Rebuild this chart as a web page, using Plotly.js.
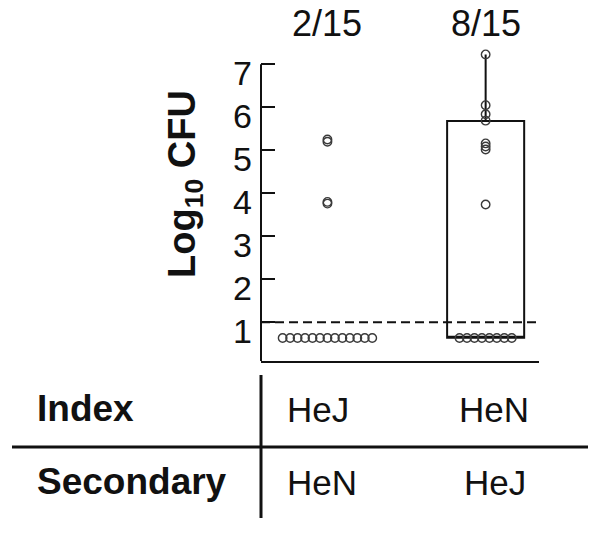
<!DOCTYPE html>
<html>
<head>
<meta charset="utf-8">
<script src="https://cdn.plot.ly/plotly-3.0.1.min.js"></script>
<style>html,body{margin:0;padding:0;background:#fff;}#chart{width:602px;height:533px;}</style>
</head>
<body>
<div id="chart"></div>
<script>
// ---- data ----
var groups = ['HeJ', 'HeN'];
var ratioLabels = ['2/15', '8/15'];
var indexRow = ['HeJ', 'HeN'];
var secondaryRow = ['HeN', 'HeJ'];
var rowTitles = ['Index', 'Secondary'];
var lodValue = 0.635;          // values plotted below the detection limit
var detectionLimit = 1;        // dashed line
var valuesHeJ = [0.635,0.635,0.635,0.635,0.635,0.635,0.635,0.635,0.635,0.635,0.635,0.635,0.635, 5.25, 5.20, 3.80, 3.76];
var valuesHeN = [0.635,0.635,0.635,0.635,0.635,0.635,0.635,0.635, 7.23, 6.05, 5.84, 5.69, 5.16, 5.09, 5.02, 3.74];
var boxHeN = {q1: 0.64, median: 0.64, q3: 5.68, lowerfence: 0.64, upperfence: 7.23};
var yTicks = [1, 2, 3, 4, 5, 6, 7];

// ---- layout geometry ----
var W = 602, H = 533;
var mL = 261, mR = 63, mT = 49, mB = 172;
var plotW = W - mL - mR, plotH = H - mT - mB;
var xRange = [0.58, 0.58 + plotW / 158.2];
var yRange = [0.1, 0.1 + plotH / 43];
function pxX(px) { return (px - mL) / plotW; }
function pxY(py) { return (H - mB - py) / plotH; }
var FONT = 'Liberation Sans, Arial, Helvetica, sans-serif';
var step = 0.0472;

function swarm(vals, center) {
  var nLod = vals.filter(function (v) { return v === lodValue; }).length;
  var k = 0;
  return vals.map(function (v) {
    if (v === lodValue) { var x = center + (k - (nLod - 1) / 2) * step; k++; return x; }
    return center;
  });
}

var allVals = [valuesHeJ, valuesHeN];
var traces = [];
traces.push({
  type: 'box', x: [2], q1: [boxHeN.q1], median: [boxHeN.median], q3: [boxHeN.q3],
  lowerfence: [boxHeN.lowerfence], upperfence: [boxHeN.upperfence],
  width: 0.487, whiskerwidth: 0, boxpoints: false,
  line: {color: '#111', width: 2}, fillcolor: 'rgba(0,0,0,0)', hoverinfo: 'skip'
});
allVals.forEach(function (vals, i) {
  traces.push({
    type: 'scatter', mode: 'markers', x: swarm(vals, i + 1), y: vals, cliponaxis: false,
    marker: {symbol: 'circle-open', size: 8.5, color: '#3a3a3a', line: {width: 1.4, color: '#3a3a3a'}},
    hoverinfo: 'skip'
  });
});

var annotations = [];
ratioLabels.forEach(function (t, i) {
  annotations.push({xref: 'x', yref: 'paper', x: i + 1, y: pxY(23.5), text: t, showarrow: false,
    xanchor: 'center', yanchor: 'middle', font: {family: FONT, size: 36, color: '#111'}});
});
annotations.push({xref: 'paper', yref: 'paper', x: pxX(185), y: pxY(184), textangle: -90,
  text: '<b>Log<sub>10</sub> CFU</b>', showarrow: false, xanchor: 'center', yanchor: 'middle',
  font: {family: FONT, size: 38, color: '#111'}});
annotations.push({xref: 'paper', yref: 'paper', x: pxX(35), y: pxY(409), text: '<b>' + rowTitles[0] + '</b>',
  showarrow: false, xanchor: 'left', yanchor: 'middle', font: {family: FONT, size: 37, color: '#111'}});
annotations.push({xref: 'paper', yref: 'paper', x: pxX(35), y: pxY(481), text: '<b>' + rowTitles[1] + '</b>',
  showarrow: false, xanchor: 'left', yanchor: 'middle', font: {family: FONT, size: 37, color: '#111'}});
var row1Shift = [-9, 8], row2Shift = [-5, 9];
indexRow.forEach(function (t, i) {
  annotations.push({xref: 'x', yref: 'paper', x: i + 1, xshift: row1Shift[i], y: pxY(410), text: t,
    showarrow: false, xanchor: 'center', yanchor: 'middle', font: {family: FONT, size: 35, color: '#111'}});
});
secondaryRow.forEach(function (t, i) {
  annotations.push({xref: 'x', yref: 'paper', x: i + 1, xshift: row2Shift[i], y: pxY(482), text: t,
    showarrow: false, xanchor: 'center', yanchor: 'middle', font: {family: FONT, size: 35, color: '#111'}});
});

var shapes = [
  {type: 'line', xref: 'paper', yref: 'y', x0: 0, x1: 0, y0: yRange[0], y1: yTicks[yTicks.length - 1],
   line: {color: '#111', width: 2}},
  {type: 'line', xref: 'paper', yref: 'y', x0: 0, x1: 1, y0: detectionLimit, y1: detectionLimit,
   line: {color: '#111', width: 2, dash: '9px,5px'}},
  {type: 'line', xref: 'paper', yref: 'paper', x0: pxX(12), x1: pxX(588), y0: pxY(447), y1: pxY(447),
   line: {color: '#111', width: 3}},
  {type: 'line', xref: 'paper', yref: 'paper', x0: pxX(261), x1: pxX(261), y0: pxY(375), y1: pxY(518),
   line: {color: '#111', width: 3}}
];

var layout = {
  width: W, height: H, margin: {l: mL, r: mR, t: mT, b: mB, pad: 0},
  paper_bgcolor: '#fff', plot_bgcolor: '#fff', showlegend: false,
  xaxis: {range: xRange, showgrid: false, zeroline: false, showticklabels: false, ticks: '',
    showline: true, linecolor: '#111', linewidth: 2, fixedrange: true},
  yaxis: {range: yRange, showgrid: false, zeroline: false, showline: false,
    tickmode: 'array', tickvals: yTicks, ticktext: yTicks.map(String),
    ticks: 'inside', ticklen: 14, tickwidth: 2, tickcolor: '#111',
    ticklabelshift: 9, ticklabelstandoff: 8,
    tickfont: {family: FONT, size: 34, color: '#111'}, fixedrange: true},
  shapes: shapes, annotations: annotations
};
Plotly.newPlot('chart', traces, layout, {displayModeBar: false, staticPlot: true});
</script>
</body>
</html>
